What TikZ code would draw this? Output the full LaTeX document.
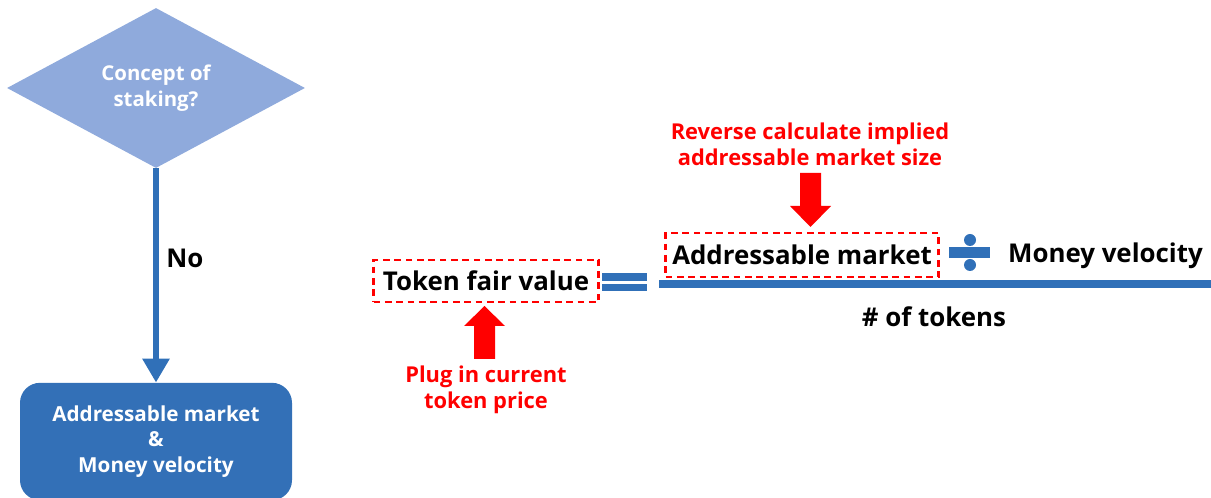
\documentclass[tikz,border=0pt]{standalone}
\usepackage{fontspec}
\setmainfont{Open Sans}
\usetikzlibrary{shapes.geometric,arrows.meta}
\definecolor{flowblue}{HTML}{3070B8}
\definecolor{lightblue}{HTML}{8FAADC}
\definecolor{boxblue}{HTML}{3370B7}
\definecolor{notered}{HTML}{FF0000}
\tikzset{
  decision/.style={diamond, aspect=1.86, fill=lightblue, text=white, inner sep=0pt,
    minimum width=223.5pt, minimum height=120pt, align=center,
    font=\bfseries\fontsize{15.3}{19.5}\selectfont},
  result/.style={rectangle, rounded corners=15pt, fill=boxblue, text=white, align=center,
    minimum width=204pt, minimum height=88pt,
    font=\bfseries\fontsize{15.5}{19}\selectfont},
  flow/.style={draw=flowblue, line width=4.5pt, -{Triangle[width=19.5pt,length=18pt]}},
  dashbox/.style={draw=notered, dashed, dash pattern=on 5pt off 3.5pt, line width=1.7pt,
    inner sep=0pt, font=\bfseries\fontsize{19.4}{23}\selectfont},
  term/.style={inner sep=0pt, font=\bfseries\fontsize{19.4}{23}\selectfont},
  note/.style={text=notered, align=center, inner sep=0pt,
    font=\bfseries\fontsize{16.4}{19.5}\selectfont},
}
\begin{document}
\begin{tikzpicture}[x=0.75pt, y=-0.75pt]
\clip (0,0) rectangle (1211,498);
% flowchart on the left
\node[decision] (stake) at (156,88) {Concept of\\staking?};
\node[result] (market0) at (156,441.5) {Addressable market\\\&\\Money velocity};
\draw[flow] (stake.south) -- (market0.north);
\node[term, anchor=west] (no) at (166,258) {No};
% valuation formula
\node[dashbox, minimum width=168.75pt, minimum height=31.5pt] (fair) at (486,281) {Token fair value};
\fill[flowblue] (602,273) rectangle (647,281);
\fill[flowblue] (602,284) rectangle (647,291);
\node[dashbox, minimum width=204.75pt, minimum height=33pt] (market) at (802,255) {Addressable market};
\fill[flowblue] (949,247) rectangle (990,258);
\fill[flowblue] (970,240) circle (4.5pt);
\fill[flowblue] (970,265) circle (4.5pt);
\node[term, anchor=base] (velocity) at (1105.5,263) {Money velocity};
\draw[flowblue, line width=6pt] (659,284) -- (1211,284);
\node[term, anchor=base] (tokens) at (934,327) {\# of tokens};
% red hints
\fill[notered] (474,359) -- (474,326) -- (464,326) -- (484.5,306) -- (505,326) -- (495,326) -- (495,359) -- cycle;
\node[note] (plug) at (486,389.5) {Plug in current\\token price};
\fill[notered] (800,173) -- (800,206) -- (790,206) -- (810.5,227) -- (831,206) -- (821,206) -- (821,173) -- cycle;
\node[note] (reverse) at (810,144) {Reverse calculate implied\\addressable market size};
\end{tikzpicture}
\end{document}
